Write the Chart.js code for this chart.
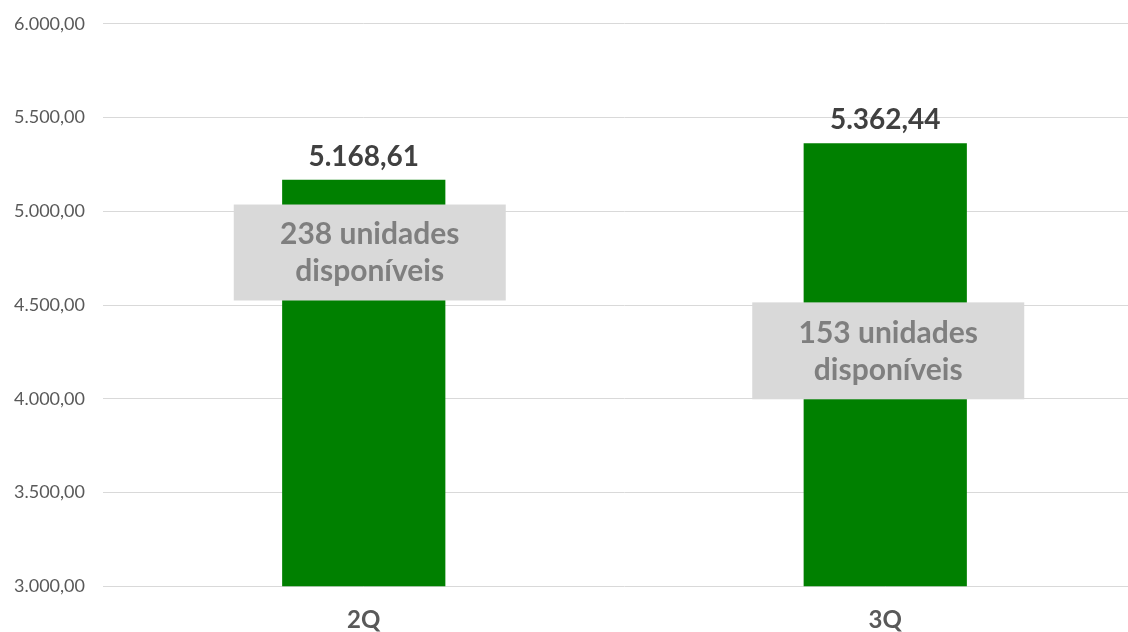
<!DOCTYPE html>
<html>
<head>
<meta charset="utf-8">
<script src="https://cdn.jsdelivr.net/npm/chart.js@4.4.1/dist/chart.umd.min.js"></script>
<style>
  html, body { margin: 0; padding: 0; background: #ffffff; overflow: hidden; }
  #wrap { position: absolute; left: 0; top: -5px; width: 1146px; height: 662px; }
</style>
</head>
<body>
<div id="wrap"><canvas id="chart"></canvas></div>
<script>
// chart data
const quarters = ['2Q', '3Q'];
const priceValues = [5168.61, 5362.44];
const unitsNotes = [['238 unidades', 'disponíveis'], ['153 unidades', 'disponíveis']];
// box ranges in axis values (top, bottom) and horizontal nudge in px
const noteTop = [5036, 4514];
const noteBottom = [4524, 3997];
const noteShift = [6, 3];

const FONT = 'Lato, "Open Sans", sans-serif';

// 5168.61 -> "5.168,61"
function fmtBR(v) {
    const parts = v.toFixed(2).split('.');
    const intPart = parts[0].replace(/\B(?=(\d{3})+(?!\d))/g, '.');
    return intPart + ',' + parts[1];
}

// draws the value above each bar and the grey note boxes
const labelsPlugin = {
    id: 'barLabels',
    afterDatasetsDraw(chart) {
        const ctx = chart.ctx;
        const meta = chart.getDatasetMeta(0);
        const yScale = chart.scales.y;
        ctx.save();
        meta.data.forEach((bar, i) => {
            // value above bar
            ctx.fillStyle = '#404040';
            ctx.font = 'bold 28px ' + FONT;
            ctx.textAlign = 'center';
            ctx.textBaseline = 'bottom';
            ctx.fillText(fmtBR(priceValues[i]), bar.x, bar.y - 9);

            // note box
            const top = yScale.getPixelForValue(noteTop[i]);
            const bottom = yScale.getPixelForValue(noteBottom[i]);
            const cx = bar.x + noteShift[i];
            const w = 272;
            ctx.fillStyle = '#d9d9d9';
            ctx.fillRect(cx - w / 2, top, w, bottom - top);
            ctx.fillStyle = '#7f7f7f';
            ctx.font = 'bold 30px ' + FONT;
            ctx.textBaseline = 'middle';
            const mid = (top + bottom) / 2;
            ctx.fillText(unitsNotes[i][0], cx, mid - 18);
            ctx.fillText(unitsNotes[i][1], cx, mid + 19);
        });
        ctx.restore();
    }
};

new Chart(document.getElementById('chart'), {
    type: 'bar',
    data: {
        labels: quarters,
        datasets: [{
            data: priceValues,
            backgroundColor: '#008000',
            categoryPercentage: 1.0,
            barPercentage: 0.313
        }]
    },
    options: {
        responsive: true,
        maintainAspectRatio: false,
        animation: false,
        layout: { padding: { top: 5, right: 0, bottom: 2, left: 0 } },
        plugins: {
            legend: { display: false },
            tooltip: { enabled: false }
        },
        scales: {
            x: {
                grid: { display: false, drawTicks: false },
                border: { display: false },
                ticks: {
                    color: '#595959',
                    padding: 20,
                    font: { family: FONT, size: 24, weight: 'bold' }
                }
            },
            y: {
                min: 3000,
                max: 6000,
                afterFit(scale) { scale.width = 103; },
                grid: { color: '#d9d9d9', lineWidth: 1, drawTicks: false },
                border: { display: false },
                ticks: {
                    stepSize: 500,
                    color: '#595959',
                    padding: 18,
                    font: { family: FONT, size: 18 },
                    callback: (v) => fmtBR(v)
                }
            }
        }
    },
    plugins: [labelsPlugin]
});
</script>
</body>
</html>
